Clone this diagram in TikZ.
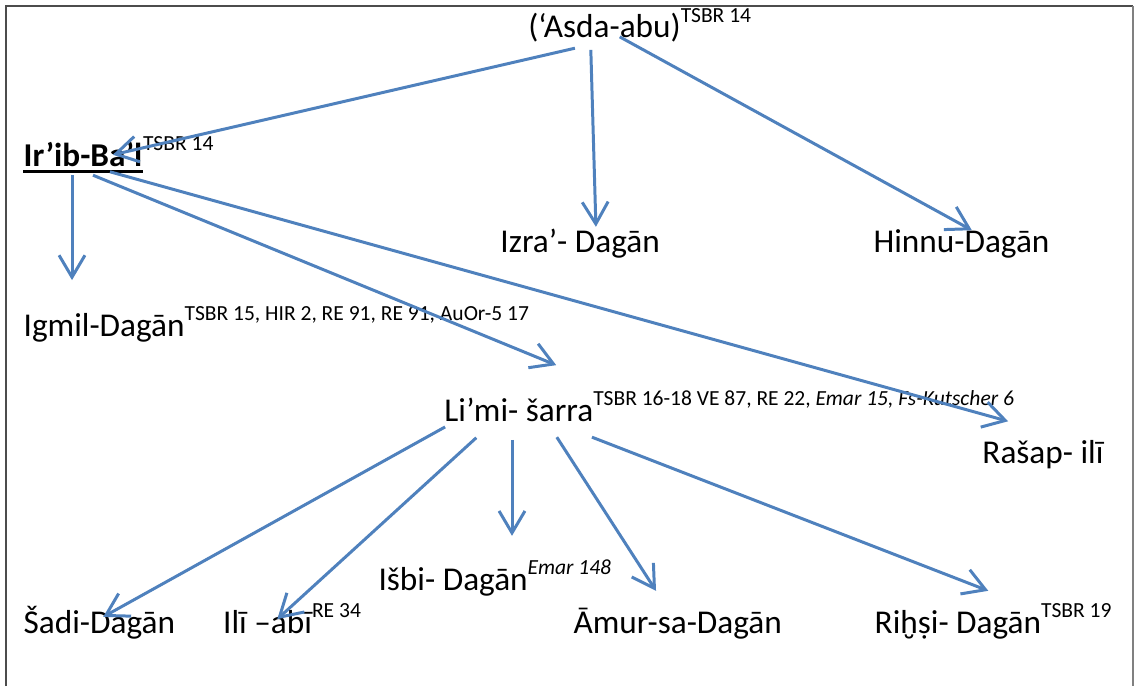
\documentclass[tikz,border=0pt]{standalone}
\usepackage{fontspec}
\setmainfont{Carlito}
\usetikzlibrary{arrows.meta}
\definecolor{linkblue}{RGB}{79,129,189}
\newcommand{\sref}[1]{\raisebox{8pt}{\fontsize{10.8}{12}\selectfont #1}}
\tikzset{
    >={Straight Barb[length=11pt, width=13pt]},
    person/.style={anchor=base west, inner sep=0pt, font=\fontsize{16.7}{20}\selectfont},
    descent/.style={->, draw=linkblue, line width=1.5pt},
    frame/.style={line width=1pt, gray!60!black},
}

\begin{document}
\begin{tikzpicture}
    \draw[frame] (0.11,-12.1) -- (0.11,-0.11) -- (19.98,-0.11);
    \draw[frame, gray] (19.98,-0.11) -- (19.98,-12.1);
    % first and second generation
    \node[person] (asda) at (9.31,-0.67) {(‘Asda-abu)\sref{TSBR 14}};
    \node[person] (irib) at (0.41,-2.93) {\bfseries Ir’ib-Ba’l};
    \node[person] (iribref) at (irib.base east) {\sref{TSBR 14}};
    \draw[line width=1.2pt] ([yshift=-2.6pt]irib.base west) -- ([yshift=-2.6pt]irib.base east);
    \node[person] (izra) at (8.82,-4.46) {Izra’- Dagān};
    \node[person] (hinnu) at (15.40,-4.46) {Hinnu-Dagān};
    % third generation
    \node[person] (igmil) at (0.41,-5.93) {Igmil-Dagān\sref{TSBR 15, HIR 2, RE 91, RE 91, AuOr-5 17}};
    \node[person] (limi) at (7.83,-7.43) {Li’mi- šarra\sref{TSBR 16-18 VE 87, RE 22, \itshape Emar 15, Fs-Kutscher 6}};
    \node[person] (rasap) at (17.32,-8.18) {Rašap- ilī};
    % fourth generation
    \node[person] (isbi) at (6.67,-10.42) {Išbi- Dagān\sref{\itshape Emar 148}};
    \node[person] (sadi) at (0.41,-11.18) {Šadi-Dagān};
    \node[person] (ili) at (3.93,-11.18) {Ilī –abī\sref{RE 34}};
    \node[person] (amur) at (10.11,-11.18) {Āmur-sa-Dagān};
    \node[person] (rihsi) at (15.42,-11.18) {Riḫṣi- Dagān\sref{TSBR 19}};
    % descent lines
    \foreach \sx/\sy/\n/\tx/\ty in {0.83/-0.18/irib/1.58/0.20, 1.11/-0.21/izra/1.69/0.46, 1.62/0.02/hinnu/1.74/0.40}
        \draw[descent] ([shift={(\sx,\sy)}]asda.base west) -- ([shift={(\tx,\ty)}]\n.base west);
    \foreach \sx/\sy/\n/\tx/\ty in {0.86/-0.16/igmil/0.86/0.99, 1.23/-0.16/limi/1.98/0.99, 1.53/-0.10/rasap/0.46/0.75}
        \draw[descent] ([shift={(\sx,\sy)}]irib.base west) -- ([shift={(\tx,\ty)}]\n.base west);
    \foreach \sx/\sy/\n/\tx/\ty in {0.02/-0.10/sadi/1.41/0.30, 0.57/-0.29/ili/0.96/0.26, 1.20/-0.33/isbi/2.36/0.97, 1.99/-0.28/amur/1.46/0.76, 2.61/-0.28/rihsi/2.01/0.76}
        \draw[descent] ([shift={(\sx,\sy)}]limi.base west) -- ([shift={(\tx,\ty)}]\n.base west);
    \useasboundingbox (0,0) rectangle (20,-12.1);
\end{tikzpicture}
\end{document}
